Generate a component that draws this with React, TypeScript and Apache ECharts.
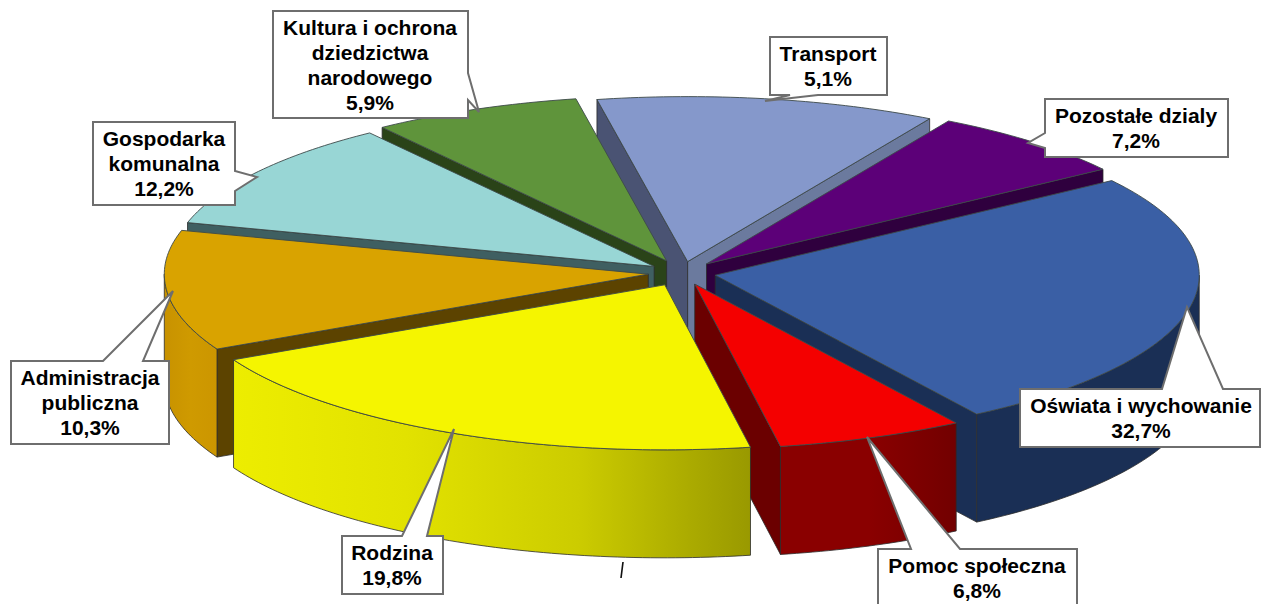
import React, { useEffect, useRef } from "react";
import * as echarts from "echarts";

// Text of the callouts, clockwise from the right-hand slice
const categories = [
  "Oświata i wychowanie",
  "Pomoc społeczna",
  "Rodzina",
  "Administracja\npubliczna",
  "Gospodarka\nkomunalna",
  "Kultura i ochrona\ndziedzictwa\nnarodowego",
  "Transport",
  "Pozostałe dzialy",
];
const labelledPercent = [32.7, 6.8, 19.8, 10.3, 12.2, 5.9, 5.1, 7.2];
// The sweep each slice has in the picture, in degrees (it differs from the printed share)
const drawnSweep = [92.3, 22.5, 73.2, 42.4, 38.6, 25.2, 40.8, 25];

const FIRST_ANGLE = -35;
const CX = 682;
const CY = 273;
const RX = 484;
const RY = 165;
const DEPTH = 108;
const pulls = [0.07, 0.072, 0.08, 0.07, 0.07, 0.08, 0.07, 0.075];
const paintRank = [5, 6, 7, 4, 3, 1, 0, 2];
const topColors = ["#3A5FA5", "#F40000", "#F5F500", "#D9A300", "#98D6D5", "#5F943B", "#8598CB", "#5C0078"];
const startFace = ["#1A2F55", "#6B0000", "#6a6a00", "#5C4300", "#3F5F61", "#2A4318", "#4A5373", "#2F003E"];
const endFace = ["#1A2F55", "#6B0000", "#6a6a00", "#5C4300", "#3F5F61", "#2A4318", "#6B7A9E", "#2F003E"];
const wallStops: string[][] = [
  ["#1A2F55", "#1A2F55"],
  ["#8A0000", "#8A0000", "#720000"],
  ["#EDED00", "#E2E200", "#CCCC00", "#999900"],
  ["#C89200", "#CF9A00", "#CC9600"],
  ["#3F5F61", "#3F5F61"],
  ["#2A4318", "#2A4318"],
  ["#4A5373", "#4A5373"],
  ["#2F003E", "#2F003E"],
];

const BORDER = "#6e6e6e";
const callouts = [
  { i: 0, at: [1141, 418], pts: [[1020, 389], [1162, 389], [1187, 307], [1223, 389], [1260, 389], [1260, 447], [1020, 447]] },
  { i: 1, at: [977, 578], pts: [[878, 549], [911, 549], [867, 437], [960, 549], [1077, 549], [1077, 612], [878, 612]] },
  { i: 2, at: [392, 565], pts: [[342, 536], [402, 536], [454, 429], [427, 536], [443, 536], [443, 594], [342, 594]] },
  { i: 3, at: [90, 402], pts: [[11, 361], [103, 361], [173, 291], [143, 361], [169, 361], [169, 444], [11, 444]] },
  { i: 4, at: [164, 163], pts: [[93, 122], [235, 122], [235, 171], [257, 177], [235, 191], [235, 205], [93, 205]] },
  { i: 5, at: [370, 65], pts: [[273, 11], [468, 11], [468, 73], [479, 112], [468, 100], [468, 118], [273, 118]] },
  { i: 6, at: [828, 66], pts: [[770, 37], [887, 37], [887, 95], [818, 95], [765, 101], [790, 95], [770, 95]] },
  { i: 7, at: [1136, 128], pts: [[1045, 99], [1228, 99], [1228, 157], [1045, 157], [1045, 148], [1028, 143], [1045, 133]] },
];

const rad = (d: number) => (d * Math.PI) / 180;

function sliceRows() {
  let a = FIRST_ANGLE;
  const rows = drawnSweep.map((s, i) => {
    const row = [a, a + s, pulls[i], i, paintRank[i]];
    a += s;
    return row;
  });
  return rows.sort((p, q) => p[4] - q[4]);
}

function renderSlice(_: any, api: any) {
  const t0 = api.value(0);
  const t1 = api.value(1);
  const pull = api.value(2);
  const i = api.value(3);
  const rank = api.value(4);
  const mid = rad((t0 + t1) / 2);
  const ax = CX + pull * RX * Math.cos(mid);
  const ay = CY + pull * RY * Math.sin(mid);
  const rim = (t: number, dz = 0) => [ax + RX * Math.cos(rad(t)), ay + RY * Math.sin(rad(t)) + dz];
  const arc = (from: number, to: number, dz = 0) => {
    const out: number[][] = [];
    const n = Math.max(1, Math.ceil(Math.abs(to - from)));
    for (let k = 0; k <= n; k++) out.push(rim(from + ((to - from) * k) / n, dz));
    return out;
  };
  const children: any[] = [];
  const poly = (points: number[][], fill: any, z: number, stroke = "#2b2b2b", lineWidth = 0.8) =>
    children.push({
      type: "polygon",
      shape: { points },
      z2: rank * 10 + z,
      style: { fill, stroke, lineWidth, lineJoin: "round" },
    });

  // radial faces, shown only when they turn toward the viewer
  if (Math.cos(rad(t0)) < 0) {
    poly([[ax, ay], rim(t0), rim(t0, DEPTH), [ax, ay + DEPTH]], startFace[i], 0);
  }
  if (Math.cos(rad(t1)) > 0) {
    poly([[ax, ay], rim(t1), rim(t1, DEPTH), [ax, ay + DEPTH]], endFace[i], 1);
  }
  // outer wall: the front half of the rim
  const lo = Math.max(t0, 0);
  const hi = Math.min(t1, 180);
  if (hi > lo) {
    const stops = wallStops[i];
    const grad = {
      type: "linear",
      x: 0,
      y: 0,
      x2: 1,
      y2: 0,
      colorStops: stops.map((color, k) => ({ offset: k / (stops.length - 1), color })),
    };
    poly([...arc(lo, hi), ...arc(hi, lo, DEPTH)], grad, 2);
  }
  // top
  poly([[ax, ay], ...arc(t0, t1)], topColors[i], 3, "#3d4a4a", 0.9);
  return { type: "group", children };
}

function calloutGraphics() {
  const out: any[] = [];
  callouts.forEach((c) => {
    out.push({
      type: "polygon",
      z: 100,
      shape: { points: c.pts },
      style: { fill: "#fff", stroke: BORDER, lineWidth: 2, lineJoin: "miter" },
    });
    out.push({
      type: "text",
      z: 101,
      x: c.at[0],
      y: c.at[1],
      style: {
        text: `${categories[c.i]}\n${labelledPercent[c.i].toFixed(1).replace(".", ",")}%`,
        fill: "#000",
        font: 'bold 21px "Liberation Sans", Arial, sans-serif',
        lineHeight: 25,
        align: "center",
        verticalAlign: "middle",
        textAlign: "center",
        textVerticalAlign: "middle",
      },
    });
  });
  out.push({
    type: "line",
    z: 100,
    shape: { x1: 623, y1: 562, x2: 621, y2: 578 },
    style: { stroke: "#111", lineWidth: 1.6 },
  });
  return out;
}

export default function App() {
  const ref = useRef<HTMLDivElement>(null);
  useEffect(() => {
    const chart = echarts.init(ref.current!, undefined, { renderer: "svg" });
    chart.setOption({
      animation: false,
      backgroundColor: "#fff",
      series: [
        {
          type: "custom",
          coordinateSystem: "none",
          renderItem: renderSlice,
          data: sliceRows(),
          silent: true,
        },
      ],
      graphic: { elements: calloutGraphics() },
    });
    return () => chart.dispose();
  }, []);
  return <div ref={ref} style={{ position: "fixed", left: 0, top: 0, width: 1263, height: 604 }} />;
}
